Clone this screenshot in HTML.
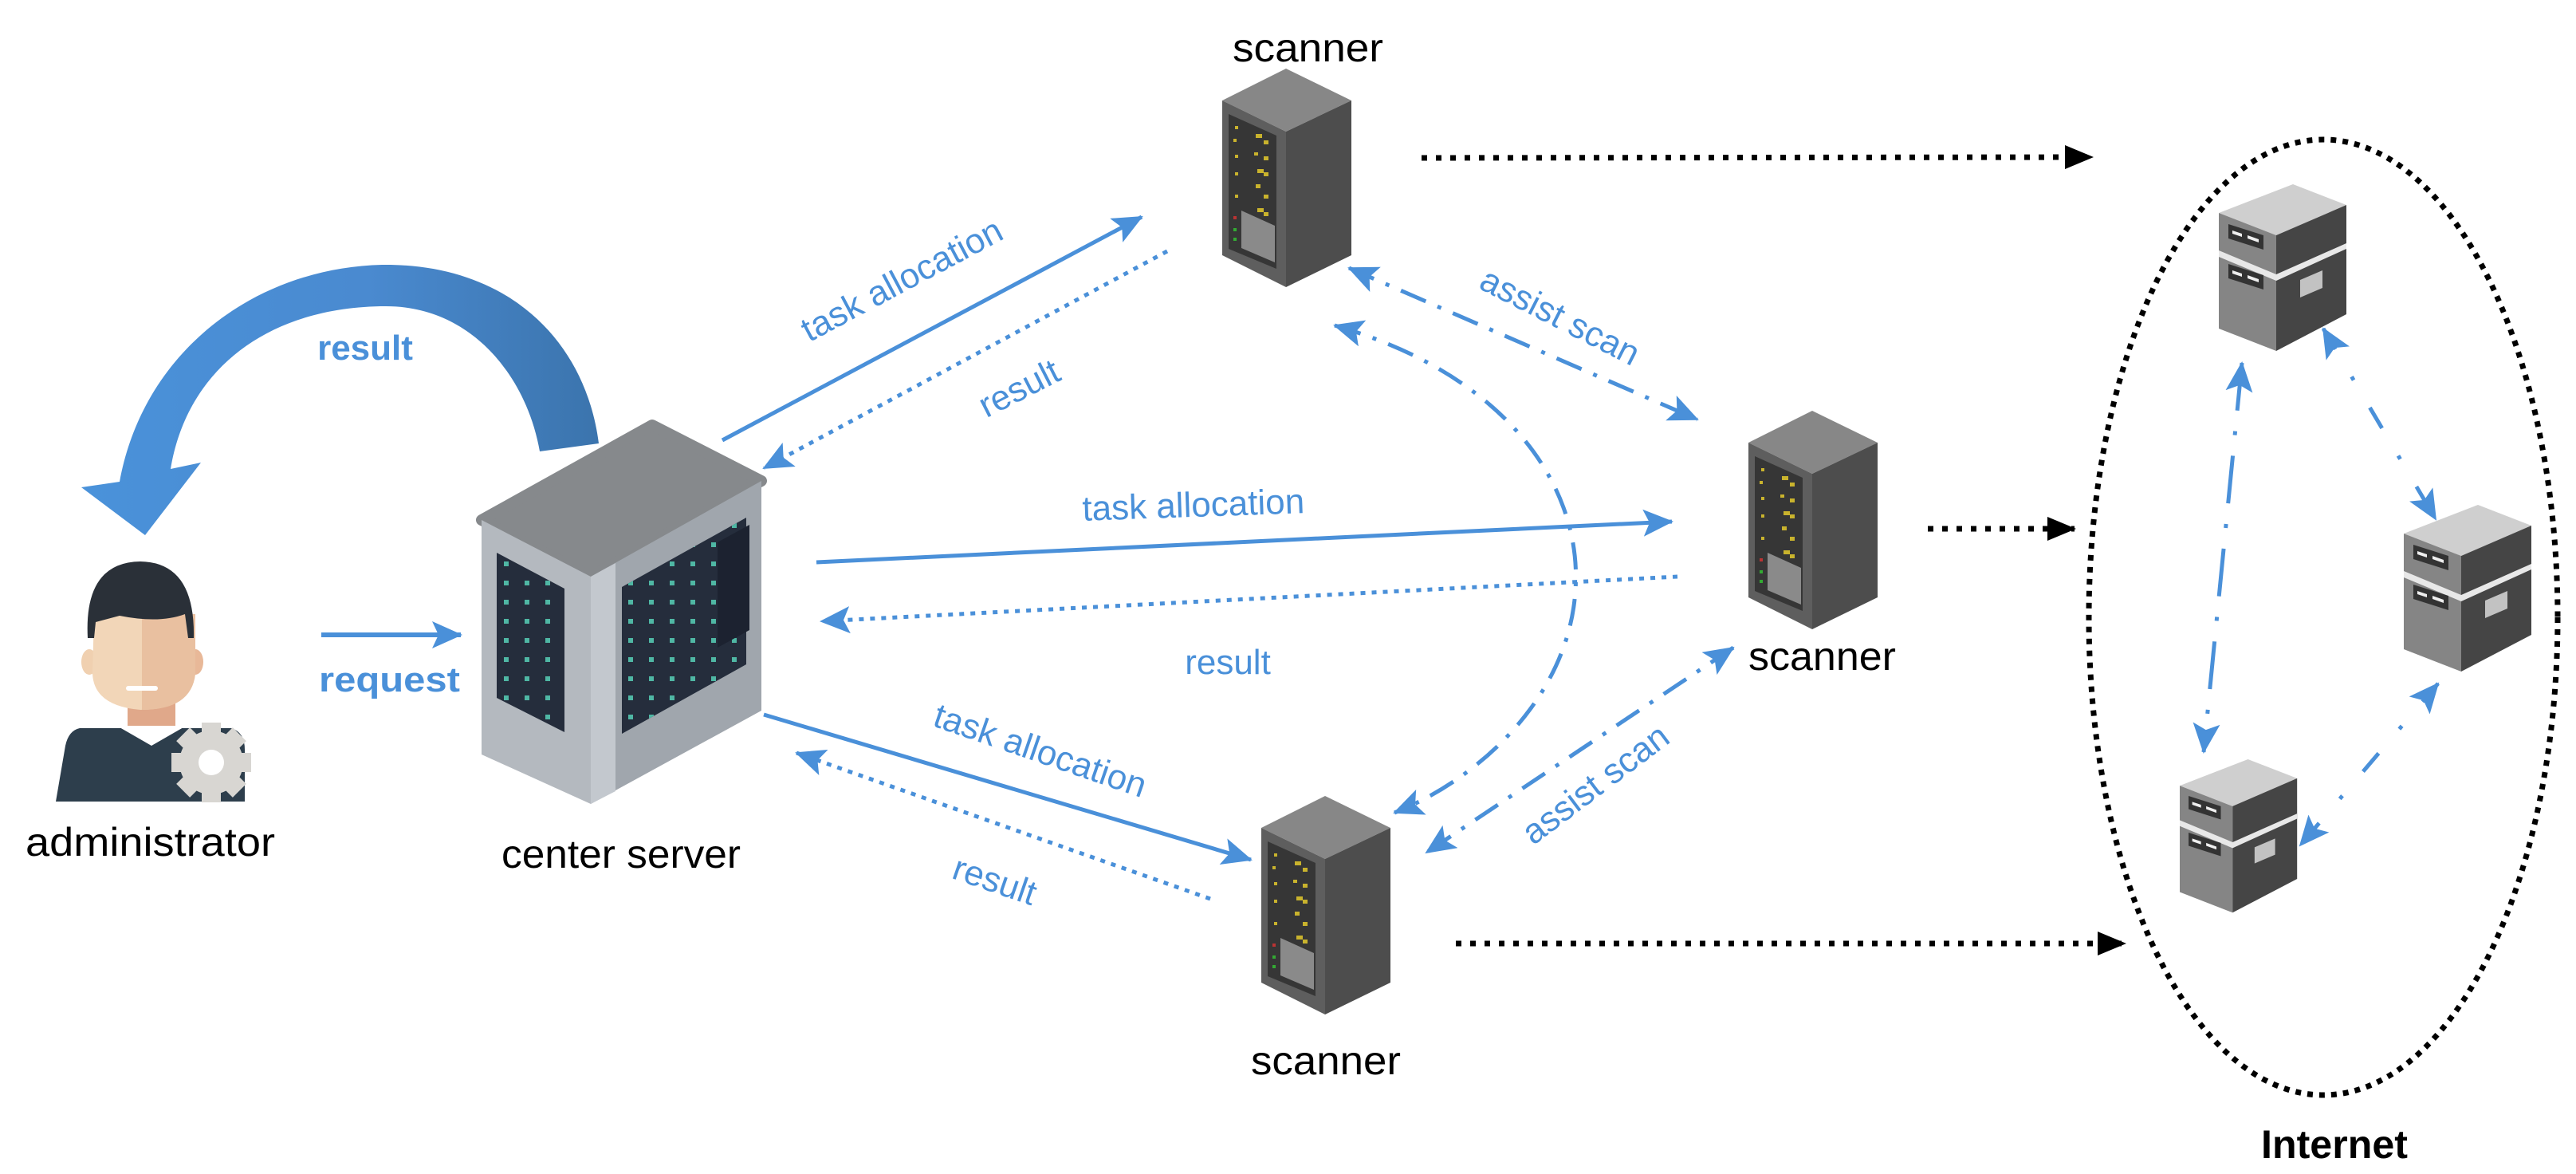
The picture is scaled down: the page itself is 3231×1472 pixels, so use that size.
<!DOCTYPE html>
<html><head><meta charset="utf-8"><style>
html,body{margin:0;padding:0;background:#fff;}
svg{display:block;}
text{font-family:"Liberation Sans",sans-serif;}
.b{fill:#4a90d9;font-size:44px;}
.k{fill:#000;font-size:50px;}
</style></head><body>
<svg width="3231" height="1472" viewBox="0 0 3231 1472" xmlns="http://www.w3.org/2000/svg">
<defs>
<marker id="ah" markerUnits="userSpaceOnUse" markerWidth="40" markerHeight="34" refX="36" refY="17" orient="auto-start-reverse">
<path d="M0,0 L38,17 L0,34 L8,17 Z" fill="#4a90d9"/></marker>
<marker id="bh" markerUnits="userSpaceOnUse" markerWidth="36" markerHeight="30" refX="34" refY="15" orient="auto">
<path d="M0,0 L36,15 L0,30 Z" fill="#000"/></marker>
<pattern id="leds" width="26" height="24" patternUnits="userSpaceOnUse">
<rect x="8" y="8" width="6" height="6" fill="#4fb7a4"/></pattern>
<g id="rack">
<polygon points="80,0 162,40 80,79 0,40" fill="#878787"/>
<polygon points="0,40 80,79 80,274 0,234" fill="#5e5e5e"/>
<polygon points="80,79 162,40 162,234 80,274" fill="#4d4d4d"/>
<polygon points="8,57 68,84 68,251 8,226" fill="#363636"/>
<g fill="#c9b32d">
<rect x="16" y="72" width="4" height="4"/><rect x="42" y="82" width="8" height="5"/><rect x="52" y="90" width="6" height="5"/>
<rect x="14" y="88" width="4" height="4"/><rect x="40" y="105" width="5" height="4"/><rect x="52" y="110" width="6" height="5"/>
<rect x="16" y="108" width="4" height="4"/><rect x="44" y="126" width="8" height="5"/><rect x="52" y="130" width="6" height="5"/>
<rect x="16" y="130" width="4" height="4"/><rect x="42" y="145" width="6" height="5"/><rect x="52" y="158" width="6" height="5"/>
<rect x="16" y="158" width="4" height="4"/><rect x="44" y="175" width="8" height="5"/><rect x="52" y="180" width="6" height="5"/>
</g>
<polygon points="24,178 66,197 66,243 24,225" fill="#8a8a8a"/>
<rect x="14" y="185" width="4" height="4" fill="#b33"/><rect x="14" y="200" width="4" height="4" fill="#3a3"/><rect x="14" y="212" width="4" height="4" fill="#3a3"/>
</g>
<g id="box">
<polygon points="93,0 160,26 72,64 0,36" fill="#cfcfcf"/>
<polygon points="0,36 72,64 72,209 0,181" fill="#858585"/>
<polygon points="72,64 160,26 160,163 72,209" fill="#454545"/>
<polygon points="0,83 72,113 160,74 160,81 72,121 0,91" fill="#e8e8e8"/>
<polygon points="12,50 56,64 56,82 12,68" fill="#333"/>
<polygon points="17,58 29,62 29,66 17,62" fill="#eee"/>
<polygon points="36,64 50,69 50,73 36,68" fill="#eee"/>
<polygon points="12,100 56,114 56,132 12,118" fill="#333"/>
<polygon points="17,108 29,112 29,116 17,112" fill="#eee"/>
<polygon points="36,114 50,119 50,123 36,118" fill="#eee"/>
<polygon points="102,120 130,108 130,130 102,142" fill="#c2c2c2"/>
</g>
<linearGradient id="cg" x1="0" y1="0" x2="1" y2="0">
<stop offset="0" stop-color="#4a92da"/><stop offset="0.55" stop-color="#4a8ad0"/><stop offset="1" stop-color="#3b74ad"/></linearGradient>
</defs>

<path d="M751,556 C735,430 640,330 479,332 C320,336 180,440 150,604 L102,611 L182,671 L252,580 L214,588 C235,460 340,384 484,384 C590,384 660,470 677,566 Z" fill="url(#cg)"/>
<text class="b" x="458" y="451" text-anchor="middle" font-weight="bold" font-size="44">result</text>

<g>
<path d="M90,913 L290,913 Q307,918 307,940 L307,1005 L70,1005 L82,935 Q86,916 100,913 Z" fill="#2d3e4c"/>
<polygon points="150,912 190,935 230,912" fill="#fff"/>
<rect x="160" y="880" width="60" height="30" fill="#e0a88a"/>
<ellipse cx="112" cy="830" rx="10" ry="16" fill="#f0d0b0"/>
<ellipse cx="245" cy="830" rx="10" ry="16" fill="#e8b898"/>
<path d="M118,770 L245,770 L245,845 Q240,890 176,890 Q118,885 116,845 Z" fill="#f2d6b8"/>
<path d="M178,770 L245,770 L245,845 Q240,890 178,890 Z" fill="#e9c0a0"/>
<rect x="158" y="860" width="40" height="6" rx="3" fill="#fff"/>
<path d="M110,800 Q105,705 176,704 Q245,705 243,800 L236,800 L232,770 Q200,782 150,772 L120,780 L118,800 Z" fill="#2a3038"/>
<circle cx="265" cy="956" r="40" fill="#d8d6d2"/>
<g fill="#d8d6d2"><rect x="253" y="906" width="24" height="100"/><rect x="215" y="944" width="100" height="24"/><rect x="253" y="906" width="24" height="100" transform="rotate(45 265 956)"/><rect x="253" y="906" width="24" height="100" transform="rotate(-45 265 956)"/></g>
<circle cx="265" cy="956" r="16" fill="#fff"/>
</g>
<text class="k" x="32" y="1073" textLength="313" lengthAdjust="spacingAndGlyphs" font-size="48">administrator</text>

<line x1="403" y1="796" x2="578" y2="796" stroke="#4a90d9" stroke-width="6" marker-end="url(#ah)"/>
<text class="b" x="400" y="867" textLength="177" lengthAdjust="spacingAndGlyphs" font-weight="bold">request</text>

<g>
<polygon points="604,652 818,533 955,603 741,723" fill="#86898c" stroke="#86898c" stroke-width="14" stroke-linejoin="round"/>
<polygon points="604,652 741,723 741,1008 604,946" fill="#b4b9bf"/>
<polygon points="741,723 955,603 955,891 741,1008" fill="#a0a6ad"/>
<polygon points="741,723 772,706 772,992 741,1008" fill="#c3c8ce"/>
<polygon points="623,693 708,738 708,918 623,875" fill="#252d3c"/>
<polygon points="623,693 708,738 708,918 623,875" fill="url(#leds)"/>
<polygon points="780,736 936,649 936,833 780,920" fill="#252d3c"/>
<polygon points="780,736 936,649 936,833 780,920" fill="url(#leds)"/>
<polygon points="900,680 940,658 940,790 900,812" fill="#1c2230"/>
</g>
<text class="k" x="779" y="1088" text-anchor="middle" textLength="300" lengthAdjust="spacingAndGlyphs" font-size="46">center server</text>

<use href="#rack" x="1533" y="86"/>
<use href="#rack" x="2193" y="515"/>
<use href="#rack" x="1582" y="998"/>
<text class="k" x="1546" y="77" textLength="189" lengthAdjust="spacingAndGlyphs" font-size="52">scanner</text>
<text class="k" x="2193" y="840" textLength="185" lengthAdjust="spacingAndGlyphs" font-size="52">scanner</text>
<text class="k" x="1569" y="1347" textLength="188" lengthAdjust="spacingAndGlyphs" font-size="52">scanner</text>

<g stroke="#4a90d9" stroke-width="5" fill="none">
<line x1="906" y1="552" x2="1432" y2="272" marker-end="url(#ah)"/>
<line x1="1464" y1="315" x2="958" y2="587" stroke-dasharray="6 8" marker-end="url(#ah)"/>
<line x1="1024" y1="705" x2="2097" y2="654" marker-end="url(#ah)"/>
<line x1="2104" y1="723" x2="1030" y2="779" stroke-dasharray="6 8" marker-end="url(#ah)"/>
<line x1="958" y1="896" x2="1569" y2="1078" marker-end="url(#ah)"/>
<line x1="1518" y1="1127" x2="999" y2="944" stroke-dasharray="6 8" marker-end="url(#ah)"/>
<line x1="1692" y1="336" x2="2129" y2="526" stroke-dasharray="34 16 5 16" marker-start="url(#ah)" marker-end="url(#ah)"/>
<path d="M1674,408 C1890,470 1985,610 1976,740 C1968,870 1860,975 1749,1019" stroke-dasharray="34 16 5 16" marker-start="url(#ah)" marker-end="url(#ah)"/>
<line x1="2174" y1="812" x2="1789" y2="1069" stroke-dasharray="34 16 5 16" marker-start="url(#ah)" marker-end="url(#ah)"/>
<line x1="2914" y1="412" x2="3055" y2="651" stroke-dasharray="30 40 5 40" marker-start="url(#ah)" marker-end="url(#ah)"/>
<line x1="2812" y1="455" x2="2764" y2="943" stroke-dasharray="60 26 5 26" marker-start="url(#ah)" marker-end="url(#ah)"/>
<line x1="3058" y1="857" x2="2885" y2="1060" stroke-dasharray="30 40 5 40" marker-start="url(#ah)" marker-end="url(#ah)"/>
</g>
<text class="b" transform="translate(1138,364) rotate(-28)" text-anchor="middle">task allocation</text>
<text class="b" transform="translate(1285,500) rotate(-27)" text-anchor="middle">result</text>
<text class="b" x="1497" y="648" text-anchor="middle" transform="rotate(-2 1497 640)">task allocation</text>
<text class="b" x="1540" y="845" text-anchor="middle">result</text>
<text class="b" transform="translate(1300,955) rotate(19)" text-anchor="middle">task allocation</text>
<text class="b" transform="translate(1243,1118) rotate(19)" text-anchor="middle">result</text>
<text class="b" transform="translate(1950,410) rotate(27)" text-anchor="middle">assist scan</text>
<text class="b" transform="translate(2010,995) rotate(-37)" text-anchor="middle">assist scan</text>

<g stroke="#000" stroke-width="7" stroke-dasharray="7 11" fill="none">
<line x1="1783" y1="198" x2="2624" y2="197" marker-end="url(#bh)"/>
<line x1="2418" y1="663" x2="2602" y2="663" marker-end="url(#bh)"/>
<line x1="1826" y1="1183" x2="2665" y2="1183" marker-end="url(#bh)"/>
</g>

<ellipse cx="2914" cy="774" rx="294" ry="599" fill="none" stroke="#000" stroke-width="7" stroke-dasharray="7 8"/>
<use href="#box" x="2783" y="231"/>
<use href="#box" x="3015" y="633"/>
<use href="#box" transform="translate(2734,952) scale(0.92)"/>
<text class="k" x="2836" y="1452" textLength="184" lengthAdjust="spacingAndGlyphs" font-size="46" font-weight="bold">Internet</text>
</svg>
</body></html>
